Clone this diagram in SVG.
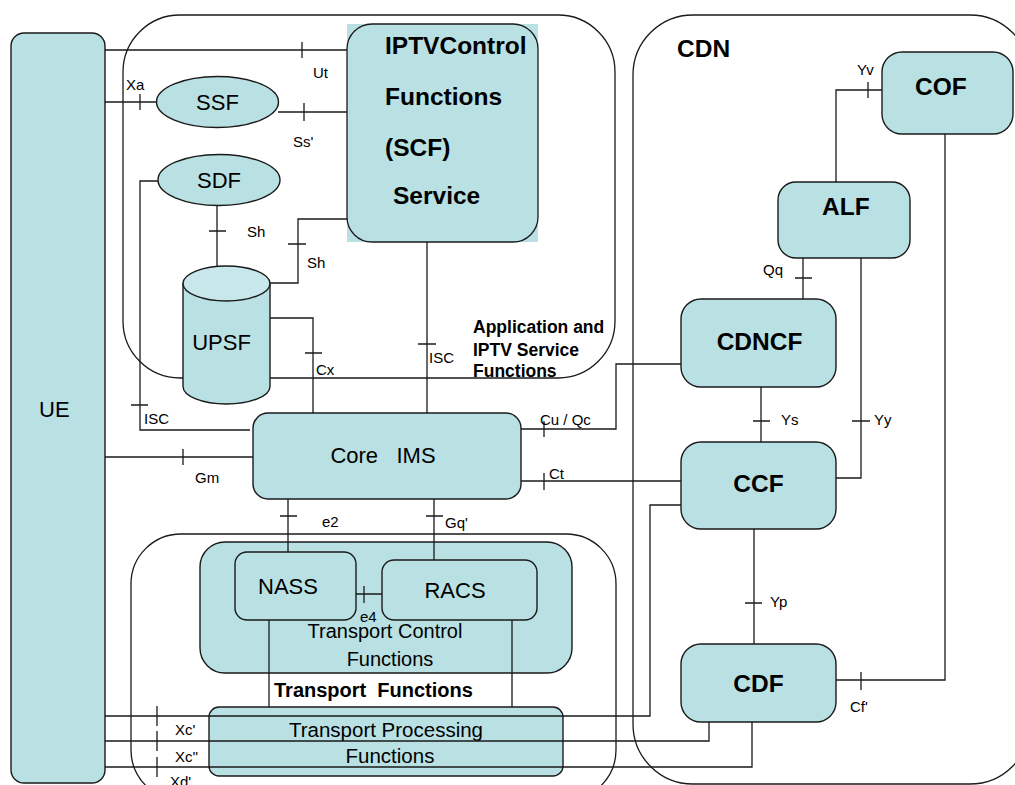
<svg xmlns="http://www.w3.org/2000/svg" width="1015" height="785" viewBox="0 0 1015 785">
<style>
.c{fill:none;stroke:#1a1a1a;stroke-width:1.3}
.n{fill:#b9e0e3;stroke:#1a1a1a;stroke-width:1.4}
.ln{fill:none;stroke:#1a1a1a;stroke-width:1.3}
.t{font-family:"Liberation Sans",Arial,sans-serif;fill:#000}
.s{font-size:15px}
.m{font-size:22px}
.b{font-weight:bold;font-size:24.5px}
.ap{font-weight:bold;font-size:17.5px}
</style>
<rect width="1015" height="785" fill="#fff"/>
<g id="containers">
<rect class="c" x="123" y="15" width="492" height="363" rx="57"/>
<rect class="c" x="633" y="15" width="397" height="769" rx="60"/>
<rect class="c" x="131" y="534" width="485" height="266" rx="50"/>
<text class="t b" x="677" y="57">CDN</text>
<text class="t ap" x="473" y="333">Application and</text>
<text class="t ap" x="473" y="356">IPTV Service</text>
<text class="t ap" x="473" y="377">Functions</text>
</g>
<g id="UE"><rect class="n" x="11" y="33" width="94" height="750" rx="13"/><text class="t m" x="39" y="417">UE</text></g>
<g id="SCF">
<rect x="347" y="24" width="191" height="218" fill="#b9e0e3"/>
<rect class="c" x="347" y="24" width="191" height="218" rx="25"/>
<text class="t b" font-size="25" x="385" y="54">IPTVControl</text>
<text class="t b" font-size="25" x="385" y="105">Functions</text>
<text class="t b" font-size="25" x="385" y="156">(SCF)</text>
<text class="t b" font-size="25" x="393" y="204">Service</text>
</g>
<g id="SSF"><ellipse class="n" cx="217.5" cy="102" rx="61" ry="25.5"/><text class="t m" x="217.5" y="110" text-anchor="middle">SSF</text></g>
<g id="SDF"><ellipse class="n" cx="219" cy="180" rx="61" ry="25.5"/><text class="t m" x="219" y="188" text-anchor="middle">SDF</text></g>
<g id="UPSF">
<path class="n" d="M183,283.5 V386.5 A43.5,17.5 0 0 0 270,386.5 V283.5 Z"/>
<ellipse cx="226.5" cy="283.5" rx="43.5" ry="17.5" fill="#c8e7ea" stroke="#1a1a1a" stroke-width="1.4"/>
<text class="t m" x="221.5" y="350" text-anchor="middle">UPSF</text>
</g>
<g id="CoreIMS"><rect class="n" x="253" y="413" width="268" height="86" rx="15"/><text class="t m" x="383" y="463" text-anchor="middle" xml:space="preserve">Core   IMS</text></g>
<g id="TCF">
<rect class="n" x="200" y="542" width="372" height="131" rx="25"/>
<text class="t" font-size="20" x="385" y="638" text-anchor="middle">Transport Control</text>
<text class="t" font-size="20" x="390" y="666" text-anchor="middle">Functions</text>
</g>
<g id="NASS"><rect class="n" x="235" y="552" width="121" height="68" rx="12"/><text class="t m" x="258" y="594">NASS</text></g>
<g id="RACS"><rect class="n" x="382" y="560" width="155" height="60" rx="12"/><text class="t m" x="455" y="598" text-anchor="middle">RACS</text></g>
<text class="t" font-weight="bold" font-size="20" x="274" y="697" xml:space="preserve">Transport  Functions</text>
<g id="TPF">
<rect class="n" x="209" y="707" width="354" height="69" rx="10"/>
<text class="t" font-size="20.5" x="386" y="737" text-anchor="middle">Transport Processing</text>
<text class="t" font-size="20.5" x="390" y="763" text-anchor="middle">Functions</text>
</g>
<g id="COF"><rect class="n" x="882" y="52" width="131" height="82" rx="20"/><text class="t b" x="915" y="95">COF</text></g>
<g id="ALF"><rect class="n" x="778" y="182" width="132" height="76" rx="18"/><text class="t b" x="822" y="215">ALF</text></g>
<g id="CDNCF"><rect class="n" x="681" y="299" width="155" height="88" rx="20"/><text class="t b" x="759.5" y="350" text-anchor="middle">CDNCF</text></g>
<g id="CCF"><rect class="n" x="681" y="442" width="155" height="87" rx="20"/><text class="t b" x="758.5" y="492" text-anchor="middle">CCF</text></g>
<g id="CDF"><rect class="n" x="681" y="644" width="155" height="78" rx="20"/><text class="t b" x="758.5" y="692" text-anchor="middle">CDF</text></g>
<g id="connectors">
<path class="ln" d="M105,50 H347 M302,42 V58"/>
<path class="ln" d="M105,102 H157 M140,94 V110"/>
<path class="ln" d="M278,112 H347 M304,103 V121"/>
<path class="ln" d="M217,205 V266 M209,231 H226"/>
<path class="ln" d="M347,219 H298 V283 H270 M288,244 H306"/>
<path class="ln" d="M158,181 H140 V430 H250 M131,405 H148"/>
<path class="ln" d="M270,318 H313 V413 M305,353 H322"/>
<path class="ln" d="M427,242 V413 M418,344 H436"/>
<path class="ln" d="M105,457 H253 M183,449 V465"/>
<path class="ln" d="M681,364 H616 V429 H521 M544,421 V437"/>
<path class="ln" d="M521,481 H681 M544,473 V490"/>
<path class="ln" d="M288,499 V552 M280,516 H297"/>
<path class="ln" d="M434,499 V560 M426,516 H443"/>
<path class="ln" d="M356,594 H382 M364,586 V603"/>
<path class="ln" d="M269,620 V707 M512,620 V707"/>
<path class="ln" d="M681,505 H650 V716 H105"/>
<path class="ln" d="M709,722 V741 H105"/>
<path class="ln" d="M752,722 V767 H105"/>
<path class="ln" d="M157,706 V726 M157,731 V751 M157,757 V777"/>
<path class="ln" d="M836,182 V90 H882 M868,82 V98"/>
<path class="ln" d="M803,258 V299 M795,278 H812"/>
<path class="ln" d="M861,258 V478 H836 M852,421 H870"/>
<path class="ln" d="M761,387 V442 M753,421 H770"/>
<path class="ln" d="M754,529 V644 M745,603 H762"/>
<path class="ln" d="M945,134 V680 H836 M861,672 V690"/>
<text class="t s" x="313" y="78">Ut</text>
<text class="t s" x="126" y="90">Xa</text>
<text class="t s" x="293" y="147">Ss'</text>
<text class="t s" x="247" y="237">Sh</text>
<text class="t s" x="307" y="268">Sh</text>
<text class="t s" x="144" y="424">ISC</text>
<text class="t s" x="316" y="375">Cx</text>
<text class="t s" x="429" y="363">ISC</text>
<text class="t s" x="195" y="483">Gm</text>
<text class="t s" x="540" y="425">Cu / Qc</text>
<text class="t s" x="549" y="479">Ct</text>
<text class="t s" x="322" y="527">e2</text>
<text class="t s" x="445" y="528">Gq'</text>
<text class="t s" x="360" y="622">e4</text>
<text class="t s" x="175" y="735">Xc'</text>
<text class="t s" x="175" y="762">Xc''</text>
<text class="t s" x="170" y="787">Xd'</text>
<text class="t s" x="857" y="75">Yv</text>
<text class="t s" x="763" y="275">Qq</text>
<text class="t s" x="874" y="425">Yy</text>
<text class="t s" x="781" y="425">Ys</text>
<text class="t s" x="770" y="607">Yp</text>
<text class="t s" x="850" y="712">Cf'</text>
</g>
</svg>
